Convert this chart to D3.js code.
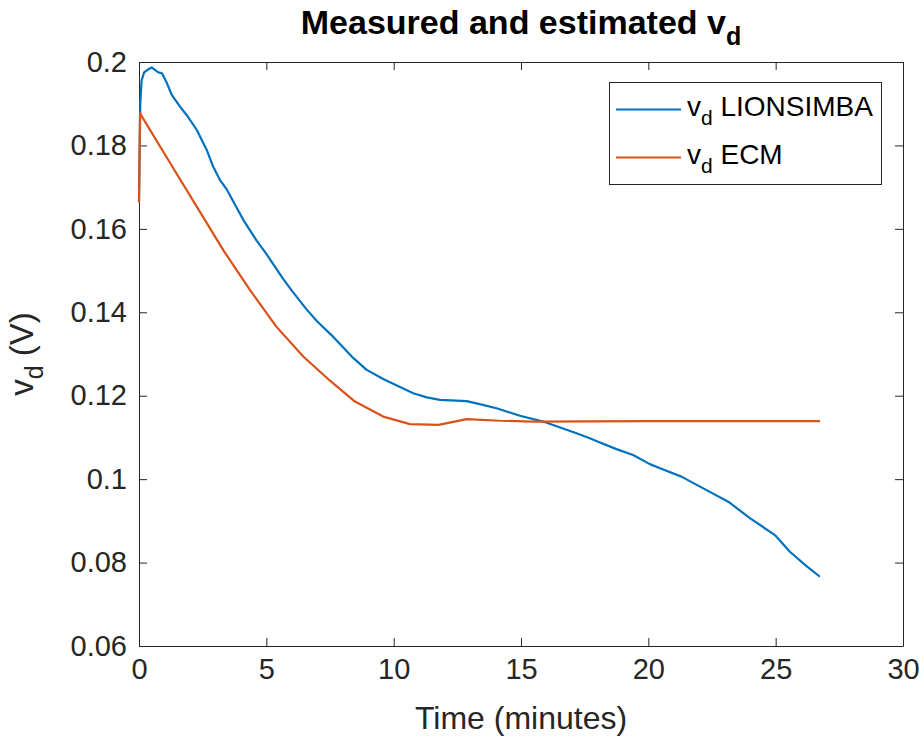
<!DOCTYPE html>
<html>
<head>
<meta charset="utf-8">
<script src="https://cdn.jsdelivr.net/npm/d3@7"></script>
<style>
  html, body { margin: 0; padding: 0; background: #fff; }
  svg { display: block; font-family: "Liberation Sans", Arial, Helvetica, sans-serif; }
</style>
</head>
<body>
<svg id="chart" width="923" height="740"></svg>
<script>
// ---- Data ----
const lionsimbaTime = [0, 0.05, 0.1, 0.2, 0.35, 0.5, 0.65, 0.76, 0.9, 1.09, 1.28, 1.61, 1.87, 2.27, 2.66, 2.92, 3.18, 3.44, 4.1, 4.62, 5.0, 5.66, 6.0, 6.58, 7.0, 7.63, 8.42, 8.94, 9.59, 10.0, 10.77, 11.3, 11.82, 12.87, 13.5, 14.04, 14.96, 15.87, 17.18, 17.7, 18.1, 18.75, 19.4, 20.06, 20.46, 21.3, 22.03, 23.14, 24.0, 24.97, 25.56, 26.2, 26.74];
const lionsimbaVd   = [0.1664, 0.190, 0.1955, 0.1975, 0.1982, 0.1987, 0.1980, 0.1975, 0.1973, 0.1950, 0.1922, 0.1893, 0.1873, 0.1837, 0.1789, 0.1748, 0.1717, 0.1695, 0.1621, 0.1572, 0.1540, 0.1480, 0.1452, 0.1407, 0.1378, 0.1341, 0.1290, 0.1262, 0.1240, 0.1228, 0.1206, 0.1196, 0.1190, 0.1187, 0.1178, 0.1170, 0.1152, 0.1138, 0.1110, 0.1098, 0.1088, 0.1072, 0.1058, 0.1036, 0.1026, 0.1006, 0.0982, 0.0946, 0.0906, 0.0866, 0.0826, 0.0792, 0.0766];

const ecmTime = [0, 0.04, 1.09, 2.13, 2.4, 3.31, 4.36, 5.4, 6.45, 7.5, 8.48, 9.59, 10.64, 11.76, 12.87, 14.17, 15.48, 20.0, 26.74];
const ecmVd   = [0.1664, 0.1877, 0.1771, 0.1667, 0.1640, 0.1549, 0.1453, 0.1365, 0.1294, 0.1236, 0.1186, 0.1150, 0.1132, 0.1130, 0.1144, 0.1140, 0.1138, 0.1139, 0.1139];

const xTicks = [0, 5, 10, 15, 20, 25, 30];
const yTicks = [0.06, 0.08, 0.1, 0.12, 0.14, 0.16, 0.18, 0.2];
const yTickLabels = ["0.06", "0.08", "0.1", "0.12", "0.14", "0.16", "0.18", "0.2"];

const seriesNames = ["LIONSIMBA", "ECM"];
const seriesColors = ["#0072BD", "#D95319"];

// ---- Layout ----
const svg = d3.select("#chart");
const plotLeft = 139, plotRight = 903, plotTop = 62, plotBottom = 646;
const axisColor = "#262626";
const textColor = "#262626";

const x = d3.scaleLinear().domain([0, 30]).range([plotLeft, plotRight]);
const y = d3.scaleLinear().domain([0.06, 0.2]).range([plotBottom, plotTop]);

const tickLen = 8;

const xAxisBottom = d3.axisBottom(x).tickValues(xTicks).tickSizeInner(-tickLen).tickSizeOuter(0).tickPadding(12).tickFormat(d3.format("d"));
const xAxisTop = d3.axisTop(x).tickValues(xTicks).tickSizeInner(-tickLen).tickSizeOuter(0).tickFormat("");
const yAxisLeft = d3.axisLeft(y).tickValues(yTicks).tickSizeInner(-tickLen).tickSizeOuter(0).tickPadding(12).tickFormat((d, i) => yTickLabels[i]);
const yAxisRight = d3.axisRight(y).tickValues(yTicks).tickSizeInner(-tickLen).tickSizeOuter(0).tickFormat("");

function styleAxis(g) {
  g.select(".domain").attr("stroke", axisColor).attr("stroke-width", 1);
  g.selectAll(".tick line").attr("stroke", axisColor).attr("stroke-width", 1);
  g.selectAll(".tick text").attr("fill", textColor).style("font-size", "29px")
    .style("font-family", "'Liberation Sans', Arial, sans-serif");
}

svg.append("g").attr("transform", `translate(0,${plotBottom})`).call(xAxisBottom).call(styleAxis);
svg.append("g").attr("transform", `translate(0,${plotTop})`).call(xAxisTop).call(styleAxis);
svg.append("g").attr("transform", `translate(${plotLeft},0)`).call(yAxisLeft).call(styleAxis);
svg.append("g").attr("transform", `translate(${plotRight},0)`).call(yAxisRight).call(styleAxis);

// Lines
const line = d3.line().x(d => x(d[0])).y(d => y(d[1]));
const lionsimba = lionsimbaTime.map((t, i) => [t, lionsimbaVd[i]]);
const ecm = ecmTime.map((t, i) => [t, ecmVd[i]]);

svg.append("path").datum(lionsimba).attr("d", line)
  .attr("fill", "none").attr("stroke", seriesColors[0]).attr("stroke-width", 2.2)
  .attr("stroke-linejoin", "round");
svg.append("path").datum(ecm).attr("d", line)
  .attr("fill", "none").attr("stroke", seriesColors[1]).attr("stroke-width", 2.2)
  .attr("stroke-linejoin", "round");

// Title
const title = svg.append("text").attr("x", (plotLeft + plotRight) / 2).attr("y", 34)
  .attr("text-anchor", "middle").attr("fill", "#000")
  .style("font-size", "34px").style("font-weight", "bold");
title.append("tspan").text("Measured and estimated v");
title.append("tspan").attr("dy", 11).style("font-size", "25px").text("d");

// X label
svg.append("text").attr("x", (plotLeft + plotRight) / 2).attr("y", 729)
  .attr("text-anchor", "middle").attr("fill", textColor)
  .style("font-size", "32px").text("Time (minutes)");

// Y label
const ylab = svg.append("text").attr("transform", `translate(33,${(plotTop + plotBottom) / 2}) rotate(-90)`)
  .attr("text-anchor", "middle").attr("fill", textColor).style("font-size", "33px");
ylab.append("tspan").text("v");
ylab.append("tspan").attr("dy", 10).style("font-size", "25px").text("d");
ylab.append("tspan").attr("dy", -10).text(" (V)");

// Legend
const legend = svg.append("g");
legend.append("rect").attr("x", 609.5).attr("y", 82.5).attr("width", 272).attr("height", 102)
  .attr("fill", "#fff").attr("stroke", "#262626").attr("stroke-width", 1);
const rowsY = [109.5, 157.5];
seriesNames.forEach((name, i) => {
  legend.append("line").attr("x1", 616).attr("x2", 681).attr("y1", rowsY[i]).attr("y2", rowsY[i])
    .attr("stroke", seriesColors[i]).attr("stroke-width", 2.2);
  const t = legend.append("text").attr("x", 687).attr("y", rowsY[i] + 6).attr("fill", "#000")
    .style("font-size", "28px");
  t.append("tspan").text("v");
  t.append("tspan").attr("dy", 9).style("font-size", "21px").text("d");
  t.append("tspan").attr("dy", -9).text(" " + name);
});
</script>
</body>
</html>
